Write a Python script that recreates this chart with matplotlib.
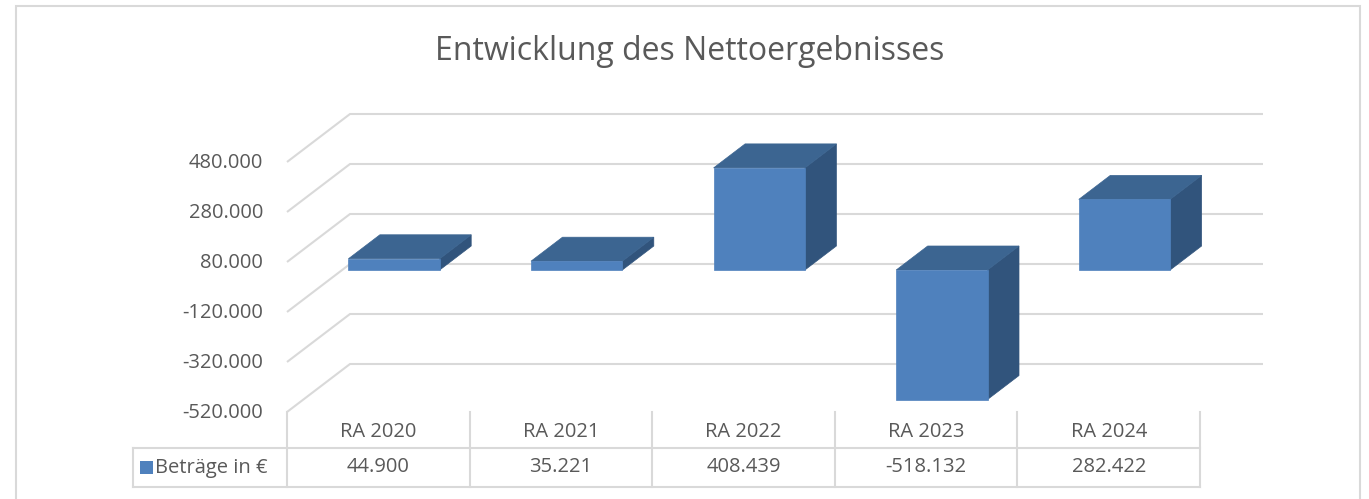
import matplotlib
matplotlib.use("Agg")
import matplotlib.pyplot as plt
from matplotlib.patches import Polygon, Rectangle
from matplotlib.transforms import blended_transform_factory
import numpy as np

# data
categories = ["RA 2020", "RA 2021", "RA 2022", "RA 2023", "RA 2024"]
values = [44900, 35221, 408439, -518132, 282422]
value_labels = ["44.900", "35.221", "408.439", "-518.132", "282.422"]
ticks = [-520000, -320000, -120000, 80000, 280000, 480000]
tick_labels = ["-520.000", "-320.000", "-120.000", "80.000", "280.000", "480.000"]
series_name = "Beträge in €"
title = "Entwicklung des Nettoergebnisses"

# layout (pixels of a 1369x499 picture)
W, H = 1369, 499
X0_PX = 287          # left edge of front plane
COL_PX = 182.6       # width of one category
ZERO_PX = 282        # y pixel of value 0 on front plane
PX_PER_EURO = 0.25 / 1000
DEPTH_X_PX, DEPTH_Y_PX = 63, 48

plt.rcParams['font.family'] = ['Open Sans', 'DejaVu Sans']
TXT = '#595959'
GRID = '#d9d9d9'
FRONT = '#4f81bd'
TOP = '#3c6591'
SIDE = '#31547c'
FS = 14.5

fig = plt.figure(figsize=(W / 100, H / 100), dpi=100)
ax = fig.add_axes([0, 0, 1, 1])
ax.set_xlim(-0.5 - X0_PX / COL_PX, -0.5 + (W - X0_PX) / COL_PX)
ax.set_ylim((ZERO_PX - H) / PX_PER_EURO, ZERO_PX / PX_PER_EURO)
ax.axis('off')

dx = DEPTH_X_PX / COL_PX
dy = DEPTH_Y_PX / PX_PER_EURO
n = len(categories)
left, right = -0.5, n - 0.5

# gridlines: diagonal on the side, then along the back wall
for t, lab in zip(ticks, tick_labels):
    ax.plot([left, left + dx, right + dx], [t, t + dy, t + dy],
            color=GRID, lw=1.5, solid_capstyle='butt', zorder=1)
    ax.text(left - 0.13, t - 6000, lab, ha='right', va='center',
            fontsize=FS, color=TXT)

# 3D bars
bw = 0.5
for i, v in enumerate(values):
    x1 = i - bw / 2 + 0.25 * dx
    x2 = i + bw / 2 + 0.25 * dx
    y0 = 0.25 * dy
    lo, hi = y0 + min(0, v), y0 + max(0, v)
    ox, oy = 0.5 * dx, 0.5 * dy
    ax.add_patch(Polygon([[x2, lo], [x2 + ox, lo + oy], [x2 + ox, hi + oy], [x2, hi]],
                         closed=True, fc=SIDE, ec=SIDE, lw=0.5, zorder=3))
    ax.add_patch(Polygon([[x1, hi], [x1 + ox, hi + oy], [x2 + ox, hi + oy], [x2, hi]],
                         closed=True, fc=TOP, ec=TOP, lw=0.5, zorder=3))
    ax.add_patch(Rectangle((x1, lo), x2 - x1, hi - lo, fc=FRONT, ec=FRONT, lw=0.5, zorder=4))

# data table below the plot
tr = blended_transform_factory(ax.transData, fig.transFigure)
def fy(py):
    return 1 - py / H

top_px, mid_px, bot_px = 412, 448, 487
label_left = left - (X0_PX - 133) / COL_PX
for k in range(n + 1):
    ax.plot([left + k, left + k], [fy(top_px), fy(bot_px)], transform=tr,
            color=GRID, lw=1.5, zorder=1)
ax.plot([label_left, label_left], [fy(mid_px), fy(bot_px)], transform=tr, color=GRID, lw=1.5)
ax.plot([label_left, right], [fy(mid_px), fy(mid_px)], transform=tr, color=GRID, lw=1.5)
ax.plot([label_left, right], [fy(bot_px), fy(bot_px)], transform=tr, color=GRID, lw=1.5)

for i in range(n):
    ax.text(i, fy((top_px + mid_px) / 2 + 2), categories[i], transform=tr,
            ha='center', va='center', fontsize=FS, color=TXT)
    ax.text(i, fy((mid_px + bot_px) / 2), value_labels[i], transform=tr,
            ha='center', va='center', fontsize=FS, color=TXT)

ax.add_patch(Rectangle((label_left + 7 / COL_PX, fy(474)), 13 / COL_PX, 13 / H,
                       transform=tr, fc=FRONT, ec='none'))
ax.text(label_left + 22 / COL_PX, fy((mid_px + bot_px) / 2), series_name, transform=tr,
        ha='left', va='center', fontsize=FS, color=TXT)

# title
fig.text(690 / W, fy(51), title, ha='center', va='center', fontsize=23, color=TXT)

# chart border
fig.add_artist(Rectangle((16 / W, -0.01), (1360 - 16) / W, fy(6) + 0.01,
                         transform=fig.transFigure, fill=False, ec=GRID, lw=1.5))

fig.savefig("out.png", dpi=100)
